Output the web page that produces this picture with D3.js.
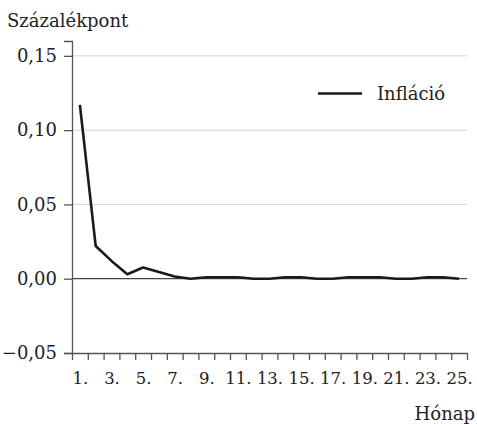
<!DOCTYPE html>
<html lang="hu">
<head>
<meta charset="UTF-8">
<title>Infláció</title>
<script src="https://d3js.org/d3.v7.min.js"></script>
</head>
<body style="margin:0;background:#fff">
<div id="chart"></div>
<script>
// data
const months = d3.range(1, 26);
const inflacio = [0.117, 0.022, 0.012, 0.003, 0.0075, 0.0045, 0.0015, 0.0, 0.001, 0.001,
                  0.001, 0.0, 0.0, 0.001, 0.001, 0.0, 0.0, 0.001, 0.001, 0.001,
                  0.0, 0.0, 0.001, 0.001, 0.0];
const yTicks = [-0.05, 0, 0.05, 0.10, 0.15];
const xLabelMonths = months.filter(m => m % 2 === 1);

const W = 477, H = 424;
const mLeft = 72, mRight = 467, mTop = 41, mBottom = 353;

const svg = d3.select("#chart").append("svg")
    .attr("width", W).attr("height", H)
    .attr("font-family", "DejaVu Serif")
    .attr("font-size", 18);

const x = d3.scaleLinear().domain([0.5, 25.5]).range([mLeft, mRight]);
const y = d3.scaleLinear().domain([-0.05, 0.16]).range([mBottom, mTop]);

const hu = d3.formatLocale({decimal: ",", thousands: " ", grouping: [3], currency: ["", " Ft"], minus: "\u2212"});
const fmt = hu.format(".2f");

// grid lines
svg.append("g").selectAll("line")
  .data(yTicks.filter(d => d > 0))
  .enter().append("line")
    .attr("x1", mLeft).attr("x2", mRight)
    .attr("y1", d => y(d)).attr("y2", d => y(d))
    .attr("stroke", "#d4d4d4").attr("stroke-width", 1);

// zero line
svg.append("line")
    .attr("x1", mLeft).attr("x2", mRight)
    .attr("y1", y(0)).attr("y2", y(0))
    .attr("stroke", "#444").attr("stroke-width", 1.2);

// y axis
const yAxis = svg.append("g")
    .attr("transform", "translate(" + mLeft + ",0)")
    .call(d3.axisLeft(y).tickValues(yTicks).tickFormat(fmt).tickSize(8).tickPadding(7));
yAxis.attr("font-family", null).attr("font-size", null);
yAxis.select(".domain").attr("stroke", "#555").attr("stroke-width", 1.3);
yAxis.selectAll(".tick line").attr("stroke", "#555").attr("stroke-width", 1.3);

// x axis: ticks between months
const xAxis = svg.append("g")
    .attr("transform", "translate(0," + mBottom + ")")
    .call(d3.axisBottom(x).tickValues(d3.range(0.5, 26, 1)).tickFormat("").tickSize(7).tickSizeOuter(0));
xAxis.select(".domain").attr("stroke", "#555").attr("stroke-width", 1.3);
xAxis.selectAll(".tick line").attr("stroke", "#555").attr("stroke-width", 1.3);

// x labels at odd months
const xLab = svg.append("g")
    .attr("transform", "translate(0," + mBottom + ")")
    .call(d3.axisBottom(x).tickValues(xLabelMonths).tickFormat(d => d + ".").tickSize(0).tickPadding(19));
xLab.attr("font-family", null).attr("font-size", 16.5);
xLab.select(".domain").remove();

// the line
const line = d3.line()
    .x((d, i) => x(months[i]))
    .y(d => y(d));
svg.append("path")
    .datum(inflacio)
    .attr("fill", "none")
    .attr("stroke", "#1a1a1a")
    .attr("stroke-width", 2.6)
    .attr("stroke-linejoin", "round")
    .attr("d", line);

// legend
svg.append("line")
    .attr("x1", 318).attr("x2", 362).attr("y1", 93.5).attr("y2", 93.5)
    .attr("stroke", "#1a1a1a").attr("stroke-width", 2.6);
svg.append("text")
    .attr("x", 377).attr("y", 100)
    .text("Infláció");

// axis titles
svg.append("text")
    .attr("x", 7).attr("y", 27)
    .text("Százalékpont");
svg.append("text")
    .attr("x", 475).attr("y", 420)
    .attr("text-anchor", "end")
    .text("Hónap");

svg.selectAll("text").attr("fill", "#222");
</script>
</body>
</html>
